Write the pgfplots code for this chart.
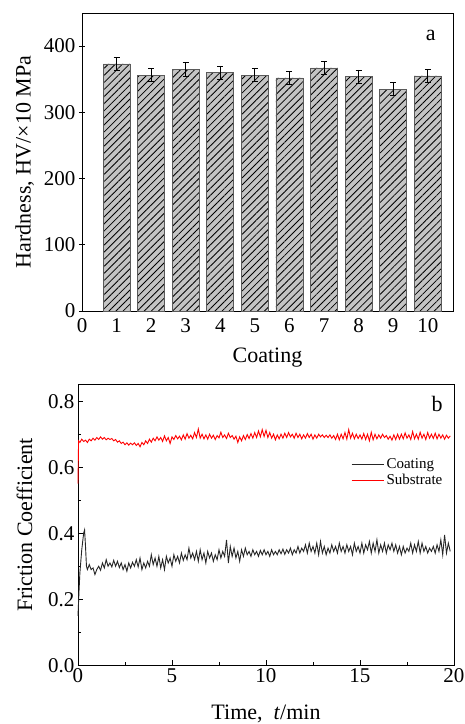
\documentclass[border=0pt]{standalone}
\usepackage{fontspec}
\setmainfont{Liberation Serif}
\usepackage{pgfplots}
\pgfplotsset{compat=1.18}
\usetikzlibrary{patterns.meta}
\definecolor{barfill}{HTML}{C4C4C4}
\definecolor{baredge}{HTML}{5A5A5A}
\begin{document}
\begin{tikzpicture}
\useasboundingbox (0,0) rectangle (465pt,724pt);
% ---------------- (a) hardness ----------------
\begin{axis}[
  at={(82pt,413pt)}, anchor=south west,
  scale only axis, width=371pt, height=298pt,
  xmin=0, xmax=10.73, ymin=0, ymax=450,
  xtick={0,1,...,10}, ytick={0,100,...,400},
  tick pos=left,
  major x tick style={draw=none},
  ytick align=center, major tick length=6pt,
  axis line style={line width=0.9pt},
  tick style={line width=0.8pt, black},
  /pgf/number format/assume math mode=true,
  tick label style={font=\fontsize{21}{24}\selectfont},
  xticklabel style={yshift=-4pt},
  xlabel={Coating}, ylabel={Hardness, HV/×10 MPa},
  label style={font=\fontsize{22}{25}\selectfont},
  xlabel style={yshift=-8pt},
  ylabel style={yshift=3pt},
  clip=false,
]
\addplot[ybar, bar width=27pt, draw=baredge, line width=0.7pt, fill=barfill,
  postaction={pattern={Lines[angle=45,distance=5pt,line width=0.8pt]}, pattern color=black},
  error bars/.cd, y dir=both, y explicit,
  error bar style={black, line width=0.8pt},
  error mark options={rotate=90, mark size=3pt, line width=0.8pt, black}]
coordinates {
 (1,373) +- (0,10)
 (2,356) +- (0,10)
 (3,365) +- (0,10)
 (4,360) +- (0,10)
 (5,356) +- (0,10)
 (6,352) +- (0,10)
 (7,367) +- (0,10)
 (8,354) +- (0,10)
 (9,335) +- (0,10)
 (10,355) +- (0,10)
};
\node[font=\fontsize{22}{25}\selectfont] at (rel axis cs:0.94,0.925) {a};
\end{axis}
% ---------------- (b) friction ----------------
\begin{axis}[
  at={(78pt,58.7pt)}, anchor=south west,
  scale only axis, width=376pt, height=280.6pt,
  xmin=0, xmax=20, ymin=0, ymax=0.85,
  xtick={0,5,...,20}, ytick={0,0.2,...,0.8},
  minor xtick={2.5,7.5,12.5,17.5}, minor ytick={0.1,0.3,0.5,0.7},
  tick pos=left, tick align=inside,
  major tick length=5pt, minor tick length=3pt,
  axis line style={line width=0.9pt},
  tick style={line width=0.8pt, black},
  /pgf/number format/assume math mode=true,
  yticklabel style={/pgf/number format/fixed, /pgf/number format/fixed zerofill, /pgf/number format/precision=1},
  tick label style={font=\fontsize{21}{24}\selectfont},
  xlabel={Time,\ \ \textit{t}/min}, ylabel={Friction Coefficient},
  label style={font=\fontsize{22}{25}\selectfont},
  xlabel style={yshift=-15pt},
  ylabel style={yshift=9pt},
  legend style={at={(0.718,0.75)}, anchor=north west, draw=white, fill=white,
    font=\fontsize{15}{17}\selectfont},
  legend cell align=left,
  legend image post style={xscale=1.9},
  clip=false,
]
\addplot[color=black!85, line width=0.9pt] coordinates {
(0,0.15) (0.05,0.22) (0.1,0.28) (0.2,0.35) (0.3,0.40) (0.35,0.41) (0.4,0.36) (0.45,0.30)
(0.5,0.29) (0.6,0.305) (0.7,0.29) (0.8,0.295) (0.9,0.275) (1.0,0.29) (1.1,0.30) (1.2,0.288)
(1.3,0.31) (1.4,0.295) (1.5,0.32) (1.6,0.30) (1.7,0.31) (1.8,0.298) (1.9,0.318) (2.0,0.30)
(2.1,0.315) (2.2,0.296) (2.3,0.31) (2.4,0.29) (2.5,0.305) (2.6,0.285) (2.7,0.31) (2.8,0.295)
(2.9,0.312) (3.0,0.30) (3.1,0.32) (3.2,0.298) (3.3,0.325) (3.4,0.29) (3.5,0.31) (3.6,0.295)
(3.7,0.315) (3.8,0.30) (3.9,0.335) (4.0,0.305) (4.1,0.325) (4.2,0.30) (4.3,0.33) (4.4,0.295)
(4.5,0.32) (4.6,0.29) (4.7,0.33) (4.8,0.31) (4.9,0.325) (5.0,0.30) (5.1,0.335) (5.2,0.315)
(5.3,0.33) (5.4,0.31) (5.5,0.34) (5.6,0.318) (5.7,0.335) (5.8,0.32) (5.9,0.355) (6.0,0.325)
(6.1,0.34) (6.2,0.32) (6.3,0.345) (6.4,0.315) (6.5,0.35) (6.6,0.32) (6.7,0.34) (6.8,0.31)
(6.9,0.345) (7.0,0.325) (7.1,0.34) (7.2,0.315) (7.3,0.335) (7.4,0.32) (7.5,0.35) (7.6,0.325)
(7.7,0.345) (7.8,0.33) (7.9,0.38) (8.0,0.31) (8.1,0.36) (8.2,0.33) (8.3,0.355) (8.4,0.325)
(8.5,0.345) (8.6,0.315) (8.7,0.35) (8.8,0.33) (8.9,0.355) (9.0,0.335) (9.1,0.345) (9.2,0.33)
(9.3,0.35) (9.4,0.335) (9.5,0.345) (9.6,0.33) (9.7,0.348) (9.8,0.335) (9.9,0.35) (10.0,0.335)
(10.1,0.345) (10.2,0.33) (10.3,0.35) (10.4,0.335) (10.5,0.345) (10.6,0.335) (10.7,0.35) (10.8,0.338)
(10.9,0.352) (11.0,0.336) (11.1,0.35) (11.2,0.34) (11.3,0.355) (11.4,0.335) (11.5,0.35) (11.6,0.34)
(11.7,0.36) (11.8,0.34) (11.9,0.355) (12.0,0.345) (12.1,0.365) (12.2,0.34) (12.3,0.37) (12.4,0.345)
(12.5,0.36) (12.6,0.34) (12.7,0.37) (12.8,0.335) (12.9,0.375) (13.0,0.34) (13.1,0.36) (13.2,0.335)
(13.3,0.355) (13.4,0.34) (13.5,0.365) (13.6,0.345) (13.7,0.36) (13.8,0.34) (13.9,0.37) (14.0,0.345)
(14.1,0.36) (14.2,0.34) (14.3,0.365) (14.4,0.345) (14.5,0.36) (14.6,0.335) (14.7,0.37) (14.8,0.345)
(14.9,0.36) (15.0,0.34) (15.1,0.37) (15.2,0.34) (15.3,0.365) (15.4,0.35) (15.5,0.375) (15.6,0.34)
(15.7,0.37) (15.8,0.345) (15.9,0.38) (16.0,0.34) (16.1,0.365) (16.2,0.345) (16.3,0.37) (16.4,0.34)
(16.5,0.365) (16.6,0.35) (16.7,0.37) (16.8,0.345) (16.9,0.365) (17.0,0.34) (17.1,0.36) (17.2,0.335)
(17.3,0.36) (17.4,0.34) (17.5,0.355) (17.6,0.345) (17.7,0.37) (17.8,0.34) (17.9,0.365) (18.0,0.345)
(18.1,0.375) (18.2,0.34) (18.3,0.37) (18.4,0.345) (18.5,0.36) (18.6,0.34) (18.7,0.355) (18.8,0.345)
(18.9,0.36) (19.0,0.34) (19.1,0.365) (19.2,0.345) (19.3,0.38) (19.4,0.335) (19.5,0.395) (19.6,0.34)
(19.7,0.37) (19.8,0.345)
};
\addlegendentry{Coating}
\addplot[color=red, line width=0.9pt] coordinates {
(0,0.55) (0.03,0.68) (0.1,0.675) (0.2,0.685) (0.3,0.678) (0.4,0.682) (0.5,0.675) (0.6,0.685)
(0.7,0.68) (0.8,0.688) (0.9,0.682) (1.0,0.69) (1.1,0.684) (1.2,0.692) (1.3,0.685) (1.4,0.69)
(1.5,0.683) (1.6,0.688) (1.7,0.684) (1.8,0.687) (1.9,0.68) (2.0,0.684) (2.1,0.676) (2.2,0.68)
(2.3,0.672) (2.4,0.676) (2.5,0.668) (2.6,0.674) (2.7,0.667) (2.8,0.673) (2.9,0.668) (3.0,0.674)
(3.1,0.666) (3.2,0.672) (3.3,0.662) (3.4,0.675) (3.5,0.668) (3.6,0.68) (3.7,0.672) (3.8,0.685)
(3.9,0.676) (4.0,0.688) (4.1,0.68) (4.2,0.692) (4.3,0.682) (4.4,0.69) (4.5,0.678) (4.6,0.695)
(4.7,0.68) (4.8,0.69) (4.9,0.672) (5.0,0.692) (5.1,0.684) (5.2,0.696) (5.3,0.686) (5.4,0.694)
(5.5,0.683) (5.6,0.698) (5.7,0.685) (5.8,0.702) (5.9,0.688) (6.0,0.697) (6.1,0.686) (6.2,0.705)
(6.3,0.69) (6.4,0.716) (6.5,0.688) (6.6,0.70) (6.7,0.686) (6.8,0.698) (6.9,0.685) (7.0,0.700)
(7.1,0.688) (7.2,0.697) (7.3,0.684) (7.4,0.696) (7.5,0.689) (7.6,0.706) (7.7,0.69) (7.8,0.698)
(7.9,0.687) (8.0,0.703) (8.1,0.69) (8.2,0.696) (8.3,0.685) (8.4,0.694) (8.5,0.675) (8.6,0.692)
(8.7,0.68) (8.8,0.696) (8.9,0.684) (9.0,0.699) (9.1,0.687) (9.2,0.702) (9.3,0.688) (9.4,0.705)
(9.5,0.69) (9.6,0.71) (9.7,0.692) (9.8,0.714) (9.9,0.693) (10.0,0.712) (10.1,0.69) (10.2,0.705)
(10.3,0.688) (10.4,0.70) (10.5,0.683) (10.6,0.698) (10.7,0.686) (10.8,0.70) (10.9,0.688) (11.0,0.703)
(11.1,0.69) (11.2,0.705) (11.3,0.692) (11.4,0.70) (11.5,0.688) (11.6,0.703) (11.7,0.69) (11.8,0.70)
(11.9,0.686) (12.0,0.698) (12.1,0.688) (12.2,0.702) (12.3,0.69) (12.4,0.70) (12.5,0.685) (12.6,0.698)
(12.7,0.688) (12.8,0.70) (12.9,0.692) (13.0,0.698) (13.1,0.69) (13.2,0.697) (13.3,0.69) (13.4,0.698)
(13.5,0.688) (13.6,0.696) (13.7,0.684) (13.8,0.70) (13.9,0.683) (14.0,0.70) (14.1,0.686) (14.2,0.705)
(14.3,0.685) (14.4,0.714) (14.5,0.688) (14.6,0.703) (14.7,0.686) (14.8,0.70) (14.9,0.687) (15.0,0.698)
(15.1,0.685) (15.2,0.702) (15.3,0.684) (15.4,0.70) (15.5,0.68) (15.6,0.706) (15.7,0.683) (15.8,0.70)
(15.9,0.686) (16.0,0.698) (16.1,0.688) (16.2,0.70) (16.3,0.69) (16.4,0.696) (16.5,0.685) (16.6,0.694)
(16.7,0.682) (16.8,0.698) (16.9,0.684) (17.0,0.70) (17.1,0.685) (17.2,0.70) (17.3,0.686) (17.4,0.704)
(17.5,0.688) (17.6,0.698) (17.7,0.684) (17.8,0.708) (17.9,0.686) (18.0,0.70) (18.1,0.685) (18.2,0.706)
(18.3,0.688) (18.4,0.70) (18.5,0.684) (18.6,0.705) (18.7,0.688) (18.8,0.70) (18.9,0.687) (19.0,0.703)
(19.1,0.686) (19.2,0.70) (19.3,0.688) (19.4,0.698) (19.5,0.685) (19.6,0.697) (19.7,0.688) (19.8,0.695)
};
\addlegendentry{Substrate}
\node[font=\fontsize{22}{25}\selectfont] at (rel axis cs:0.955,0.93) {b};
\end{axis}
\end{tikzpicture}
\end{document}
